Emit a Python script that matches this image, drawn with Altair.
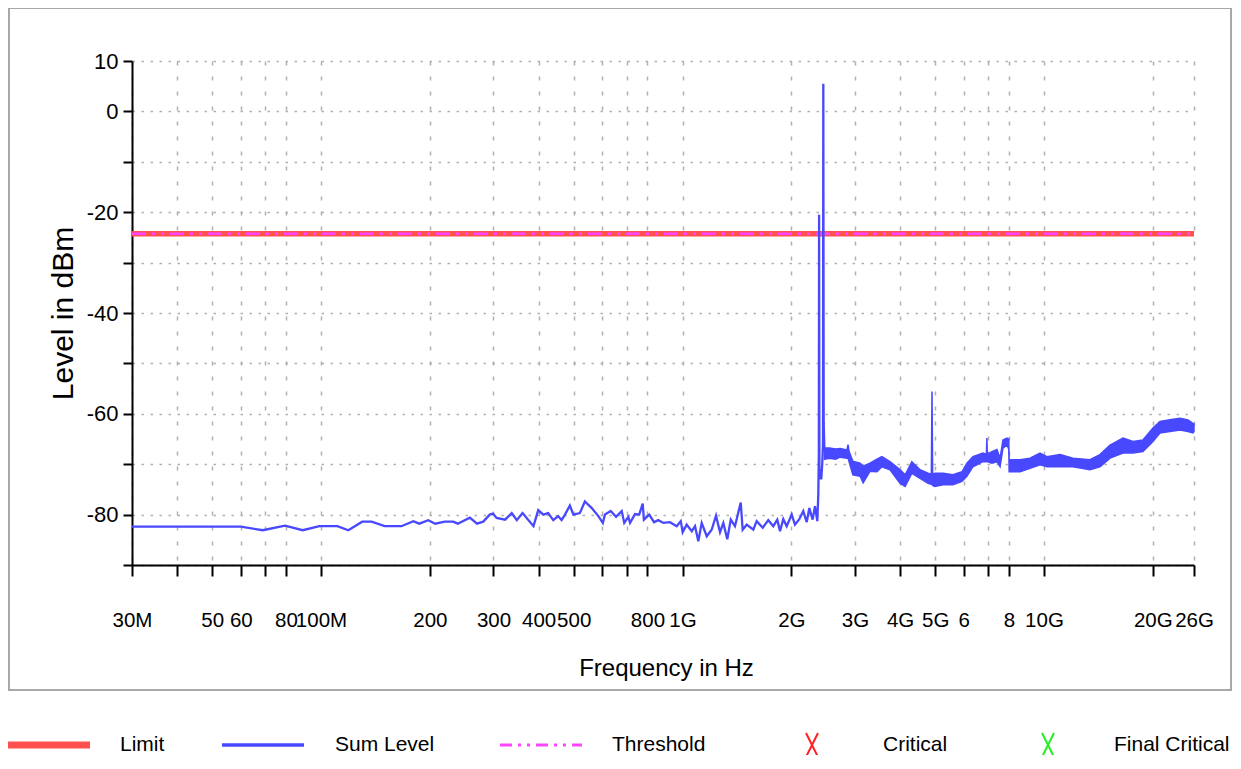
import altair as alt
import pandas as pd

# ---------------- data ----------------
# Sum Level trace (narrow part), frequency in Hz, level in dBm
sum_freq = [30e6, 60e6, 69e6, 79.5e6, 89e6, 99e6, 111e6, 119e6, 130e6, 138e6,
            150e6, 167e6, 180e6, 187e6, 198e6, 207e6, 220e6, 232e6, 239e6, 258e6,
            270e6, 281e6, 293e6, 299e6, 306e6, 323e6, 337e6, 348e6, 361e6, 387e6,
            399e6, 412e6, 425e6, 439e6, 453e6, 463e6, 473e6, 488e6, 499e6, 520e6,
            537e6, 561e6, 585e6, 602e6, 610e6, 633e6, 655e6, 679e6, 690e6, 708e6,
            716e6, 739e6, 759e6, 776e6, 782e6, 809e6, 834e6, 857e6, 885e6, 923e6,
            964e6, 989e6, 1.001e9, 1.027e9, 1.061e9, 1.083e9, 1.106e9, 1.130e9, 1.167e9, 1.204e9,
            1.238e9, 1.270e9, 1.297e9, 1.330e9, 1.360e9, 1.397e9, 1.449e9, 1.467e9, 1.505e9, 1.570e9,
            1.604e9, 1.667e9, 1.727e9, 1.783e9, 1.829e9, 1.861e9, 1.900e9, 1.942e9, 2.005e9, 2.047e9,
            2.104e9, 2.158e9, 2.206e9, 2.243e9, 2.291e9, 2.325e9, 2.360e9, 2.375e9, 2.383e9, 2.387e9,
            2.392e9, 2.405e9, 2.420e9, 2.435e9, 2.447e9, 2.452e9, 2.458e9, 2.470e9]
sum_level = [-82.4, -82.4, -83.1, -82.2, -83.1, -82.3, -82.3, -83.1, -81.4, -81.4,
             -82.3, -82.3, -81.3, -81.8, -81.1, -81.8, -81.4, -81.4, -81.8, -80.6,
             -81.8, -81.4, -80.0, -79.8, -80.65, -81.0, -79.7, -81.1, -79.7, -82.3,
             -79.1, -80.0, -79.7, -81.1, -80.3, -81.1, -80.0, -78.2, -80.0, -79.7,
             -77.4, -78.7, -80.3, -81.65, -80.0, -79.3, -80.45, -79.3, -81.65, -80.45,
             -81.65, -79.9, -80.0, -77.8, -81.0, -80.0, -81.5, -81.1, -81.65, -81.5,
             -82.3, -81.3, -83.5, -82.0, -83.3, -82.3, -85.3, -81.65, -84.3, -83.0,
             -80.2, -83.5, -81.65, -84.9, -81.0, -82.3, -77.6, -83.0, -82.0, -83.0,
             -81.3, -82.6, -81.1, -82.3, -81.0, -83.3, -80.9, -82.3, -80.0, -82.0,
             -80.9, -79.3, -81.5, -78.7, -81.0, -78.35, -81.3, -76.0, -68.0, -20.5,
             -73.0, -71.0, -73.0, -70.0, -66.0, 5.5, -62.0, -67.5]

# Sum Level trace (dense part above 2.47 GHz): lower and upper envelope
band_freq = [2.47e9, 2.55e9, 2.65e9, 2.73e9, 2.85e9, 2.87e9, 2.89e9, 2.96e9, 3.10e9, 3.16e9,
             3.30e9, 3.45e9, 3.56e9, 3.75e9, 4.00e9, 4.13e9, 4.31e9, 4.54e9, 4.78e9, 4.88e9,
             4.90e9, 4.92e9, 4.99e9, 5.26e9, 5.60e9, 5.93e9, 6.12e9, 6.36e9, 6.78e9, 6.93e9,
             6.95e9, 6.97e9, 7.18e9, 7.41e9, 7.56e9, 7.70e9, 7.90e9, 7.99e9, 8.01e9, 8.58e9,
             9.15e9, 9.75e9, 10.19e9, 11.08e9, 12.03e9, 13.40e9, 14.28e9, 15.23e9, 16.54e9, 17.63e9,
             18.78e9, 20.02e9, 20.93e9, 22.31e9, 23.78e9, 25.02e9, 25.83e9, 26.0e9]
band_low = [-69.0, -68.8, -69.0, -68.6, -68.8, -68.8, -69.5, -72.1, -72.4, -73.7,
            -71.4, -71.5, -70.5, -71.1, -73.8, -74.4, -71.8, -72.8, -73.8, -74.0,
            -73.5, -74.2, -74.4, -74.1, -74.1, -73.4, -72.4, -70.5, -69.5, -69.5,
            -69.0, -69.5, -69.8, -69.5, -70.5, -66.8, -66.2, -67.0, -71.5, -71.5,
            -70.8, -70.1, -70.5, -70.5, -70.5, -71.1, -70.5, -68.8, -67.8, -67.8,
            -67.5, -65.5, -63.8, -63.5, -63.2, -63.5, -63.8, -63.5]
band_high = [-66.8, -66.8, -67.0, -66.9, -67.2, -66.1, -67.5, -69.4, -69.8, -70.4,
             -69.8, -69.0, -68.5, -69.5, -71.1, -72.1, -69.5, -71.1, -71.8, -72.0,
             -55.6, -72.0, -71.8, -71.8, -72.1, -71.5, -69.8, -68.5, -67.8, -68.0,
             -64.8, -68.0, -67.5, -67.1, -68.8, -65.2, -64.8, -65.0, -69.1, -69.1,
             -68.8, -67.8, -68.5, -68.1, -68.8, -69.1, -68.1, -66.2, -64.8, -65.5,
             -65.2, -62.8, -61.5, -61.2, -60.9, -61.2, -61.9, -62.0]

limit_freq = [30e6, 26e9]
limit_level = [-24.3, -24.3]
threshold_freq = [30e6, 26e9]
threshold_level = [-24.3, -24.3]

x_tick_values = [30e6, 40e6, 50e6, 60e6, 70e6, 80e6, 100e6, 200e6, 300e6, 400e6, 500e6,
                 600e6, 700e6, 800e6, 1e9, 2e9, 3e9, 4e9, 5e9, 6e9, 7e9, 8e9, 10e9, 20e9, 26e9]
x_tick_labels = ["30M", "", "50", "60", "", "80", "100M", "200", "300", "400", "500",
                 "", "", "800", "1G", "2G", "3G", "4G", "5G", "6", "", "8", "10G", "20G", "26G"]
y_tick_values = [-90, -80, -70, -60, -50, -40, -30, -20, -10, 0, 10]
y_tick_labels = ["", "-80", "", "-60", "", "-40", "", "-20", "", "0", "10"]

legend_names = ["Limit", "Sum Level", "Threshold", "Critical", "Final Critical"]
legend_colors = ["#ff5050", "#4848ff", "#ff44ff", "#ff2020", "#22ee22"]

# ---------------- chart ----------------
FONT = "Liberation Sans, Arial, sans-serif"
LIMIT_C, BLUE, MAGENTA, RED_X, GREEN_X = legend_colors


def expr_lookup(values, labels):
    vals = ",".join(repr(int(v)) for v in values)
    labs = ",".join("'" + l + "'" for l in labels)
    return "[" + labs + "][indexof([" + vals + "], datum.value)]"


x_scale = alt.Scale(type="log", domain=[30e6, 26e9], nice=False)
y_scale = alt.Scale(domain=[-90, 10], nice=False, zero=False)

x_axis = alt.Axis(values=x_tick_values, labelExpr=expr_lookup(x_tick_values, x_tick_labels),
                  title="Frequency in Hz", grid=True, gridDash=[4, 11], gridColor="#b0b0b0",
                  gridWidth=1.5, domainColor="black", domainWidth=2, tickColor="black",
                  tickWidth=2, tickSize=11, labelFont=FONT, labelFontSize=20.5,
                  labelColor="black", labelBaseline="middle", labelPadding=44,
                  labelOverlap=False, labelFlush=False, labelBound=False,
                  titleFont=FONT, titleFontSize=24, titleFontWeight="normal",
                  titleColor="black", titleX=534, titleY=103, titleBaseline="middle",
                  titleAlign="center")
y_axis = alt.Axis(values=y_tick_values, labelExpr=expr_lookup(y_tick_values, y_tick_labels),
                  title="Level in dBm", grid=True, gridDash=[2.5, 6.5], gridColor="#b0b0b0",
                  gridWidth=1.5, domainColor="black", domainWidth=2, tickColor="black",
                  tickWidth=2, tickSize=9, labelFont=FONT, labelFontSize=22,
                  labelColor="black", labelPadding=5, labelOverlap=False, labelFlush=False,
                  titleFont=FONT, titleFontSize=30, titleFontWeight="normal",
                  titleColor="black", titleX=-69, titleY=252, titleAngle=270,
                  titleBaseline="middle", titleAlign="center")

df_sum = pd.DataFrame({"freq": sum_freq, "level": sum_level})
df_band = pd.DataFrame({"freq": band_freq, "low": band_low, "high": band_high})
df_limit = pd.DataFrame({"freq": limit_freq, "level": limit_level})
df_thr = pd.DataFrame({"freq": threshold_freq, "level": threshold_level})

X = alt.X("freq:Q", scale=x_scale, axis=x_axis)
Y = alt.Y("level:Q", scale=y_scale, axis=y_axis)

THR_DASH = [14, 6, 3, 6, 3, 6]

limit = alt.Chart(df_limit).mark_line(strokeWidth=5.5, color=LIMIT_C).encode(x=X, y=Y)
thr = alt.Chart(df_thr).mark_line(strokeWidth=2.5, strokeDash=THR_DASH, color=MAGENTA).encode(x=X, y=Y)
line = alt.Chart(df_sum).mark_line(strokeWidth=2.3, color=BLUE).encode(x=X, y=Y)
band = alt.Chart(df_band).mark_area(color=BLUE, stroke=BLUE, strokeWidth=1.5).encode(
    x=alt.X("freq:Q", scale=x_scale), y=alt.Y("low:Q", scale=y_scale), y2="high:Q")

one = pd.DataFrame({"k": [0]})
border = alt.Chart(one).mark_rect(
    fill="white", fillOpacity=0, stroke="#a8a8a8", strokeWidth=2).encode(
    x=alt.value(-123), x2=alt.value(1099), y=alt.value(-53), y2=alt.value(629))

# ---------------- legend (drawn below the plot) ----------------
LEG_Y = 684
sym_left = [-124, 90, 368]          # line symbols start (pixels from plot left)
label_x = [-12, 203, 480, 751, 982]
cross_x = [680, 916]
legend_layers = []
line_styles = [dict(strokeWidth=7, color=LIMIT_C),
               dict(strokeWidth=3.5, color=BLUE),
               dict(strokeWidth=3, color=MAGENTA, strokeDash=[12, 6, 3, 6, 3, 6])]
for i in range(3):
    legend_layers.append(
        alt.Chart(one).mark_rule(**line_styles[i]).encode(
            x=alt.value(sym_left[i]), x2=alt.value(sym_left[i] + 82),
            y=alt.value(LEG_Y), y2=alt.value(LEG_Y)))
for cx, col in zip(cross_x, [RED_X, GREEN_X]):
    legend_layers.append(
        alt.Chart(one).mark_point(shape="M-0.5,-1L0.5,1M-0.5,1L0.5,-1", size=576,
                                  filled=False, stroke=col, strokeWidth=2, opacity=1).encode(
            x=alt.value(cx), y=alt.value(LEG_Y)))
for lx, name in zip(label_x, legend_names):
    legend_layers.append(
        alt.Chart(one).mark_text(text=name, font=FONT, fontSize=21, color="black",
                                 align="left", baseline="middle").encode(
            x=alt.value(lx), y=alt.value(LEG_Y)))

chart = alt.layer(border, limit, thr, line, band, *legend_layers).properties(
    width=1062, height=504,
    autosize=alt.AutoSizeParams(type="none"),
    padding={"left": 124, "top": 53, "right": 38, "bottom": 190},
    background="white",
).configure_view(stroke=None)

chart.save("out.html", embed_options={"renderer": "svg", "actions": False})
